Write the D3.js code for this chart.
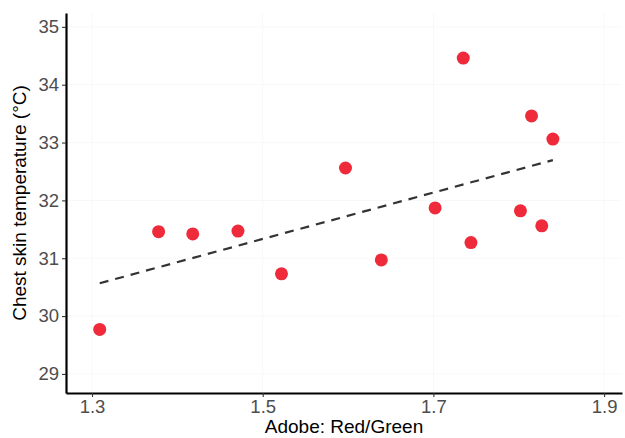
<!DOCTYPE html>
<html>
<head>
<meta charset="utf-8">
<script src="https://cdn.jsdelivr.net/npm/d3@7"></script>
<style>
  body { margin: 0; background: #fff; }
  svg { font-family: "Liberation Sans", Arial, Helvetica, sans-serif; }
</style>
</head>
<body>
<svg id="chart" width="625" height="438"></svg>
<script>
// Adobe red/green ratio vs chest skin temperature
const redGreen = [1.309, 1.378, 1.418, 1.471, 1.522, 1.597, 1.639, 1.702, 1.735, 1.744, 1.802, 1.815, 1.827, 1.840];
const chestTemp = [29.77, 31.46, 31.42, 31.47, 30.73, 32.56, 30.97, 31.87, 34.46, 31.27, 31.82, 33.46, 31.56, 33.06];
const xTicks = [1.3, 1.5, 1.7, 1.9];
const yTicks = [29, 30, 31, 32, 33, 34, 35];

const width = 625, height = 438;
const margin = { top: 13, right: 3, bottom: 45, left: 66 };

const svg = d3.select('#chart');

const x = d3.scaleLinear()
  .domain([1.2695, 1.921])
  .range([margin.left, width - margin.right]);

const y = d3.scaleLinear()
  .domain([28.67, 35.24])
  .range([height - margin.bottom, margin.top]);

const points = redGreen.map((v, i) => ({ x: v, y: chestTemp[i] }));

// faint grid
svg.append('g')
  .selectAll('line.vx')
  .data(xTicks)
  .enter().append('line')
  .attr('x1', d => x(d)).attr('x2', d => x(d))
  .attr('y1', margin.top).attr('y2', height - margin.bottom)
  .attr('stroke', '#f8f8f8');
svg.append('g')
  .selectAll('line.hy')
  .data(yTicks)
  .enter().append('line')
  .attr('x1', margin.left).attr('x2', width - margin.right)
  .attr('y1', d => y(d)).attr('y2', d => y(d))
  .attr('stroke', '#f8f8f8');

// least squares fit line
const mx = d3.mean(redGreen), my = d3.mean(chestTemp);
const slope = d3.sum(points, p => (p.x - mx) * (p.y - my)) / d3.sum(points, p => (p.x - mx) ** 2);
const icpt = my - slope * mx;
const [x0, x1] = d3.extent(redGreen);

svg.append('line')
  .attr('x1', x(x0)).attr('y1', y(icpt + slope * x0))
  .attr('x2', x(x1)).attr('y2', y(icpt + slope * x1))
  .attr('stroke', '#333')
  .attr('stroke-width', 2.2)
  .attr('stroke-dasharray', '9,7');

svg.append('g')
  .selectAll('circle')
  .data(points)
  .enter().append('circle')
  .attr('cx', d => x(d.x))
  .attr('cy', d => y(d.y))
  .attr('r', 6.5)
  .attr('fill', '#ee2a3b');

// axes
const xAxis = svg.append('g')
  .attr('transform', `translate(0,${height - margin.bottom})`)
  .call(d3.axisBottom(x).tickValues(xTicks).tickFormat(d3.format('.1f')).tickSize(4).tickPadding(3).tickSizeOuter(0));
const yAxis = svg.append('g')
  .attr('transform', `translate(${margin.left},0)`)
  .call(d3.axisLeft(y).tickValues(yTicks).tickFormat(d3.format('d')).tickSize(4).tickPadding(3).tickSizeOuter(0));

[xAxis, yAxis].forEach(a => {
  a.select('.domain').attr('stroke', '#000').attr('stroke-width', 2.2);
  a.selectAll('.tick line').attr('stroke', '#333').attr('stroke-width', 1.1);
  a.selectAll('.tick text').attr('fill', '#4d4d4d').style('font-size', '18.5px');
});

svg.append('text')
  .attr('x', (margin.left + width - margin.right) / 2)
  .attr('y', 433)
  .attr('text-anchor', 'middle')
  .style('font-size', '19px')
  .attr('fill', '#000')
  .text('Adobe: Red/Green');

svg.append('text')
  .attr('transform', `translate(26,${(margin.top + height - margin.bottom) / 2}) rotate(-90)`)
  .attr('text-anchor', 'middle')
  .style('font-size', '19px')
  .attr('fill', '#000')
  .text('Chest skin temperature (°C)');
</script>
</body>
</html>
